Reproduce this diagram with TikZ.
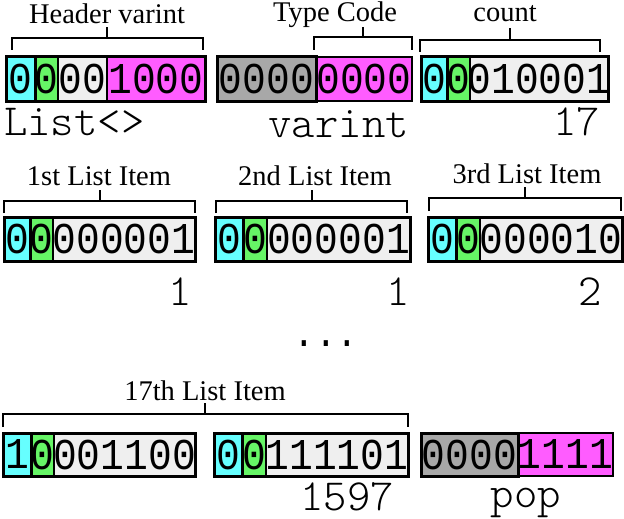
\documentclass[tikz,border=0pt]{standalone}
\usepackage{fontspec}
\setmainfont{Liberation Serif}
\newfontfamily\boxfont{Liberation Mono}[FakeStretch=0.9]
\newfontfamily\valfont{Latin Modern Mono Light}
\definecolor{cyanc}{HTML}{66FFFF}
\definecolor{greenc}{HTML}{66F566}
\definecolor{lightc}{HTML}{EFEFEF}
\definecolor{magc}{HTML}{FF5CFF}
\definecolor{grayc}{HTML}{A8A8A8}
\tikzset{
  cellbox/.style={draw=black, line width=1.3pt, inner sep=0pt, outer sep=0pt, anchor=north west,
    font=\boxfont\fontsize{44}{44}\selectfont},
  thickbox/.style={draw=black, line width=3pt},
  lbl/.style={font=\fontsize{28.5}{30}\selectfont, anchor=base, inner sep=0pt},
  val/.style={font=\valfont\fontsize{44.5}{44.5}\selectfont, inner sep=0pt},
  brk/.style={draw=black, line width=1.3pt},
}
% \mkcell{name}{x1}{x2}{y1}{y2}{color}{text}
\newcommand{\mkcell}[7]{%
  \node[cellbox, fill=#6, minimum width=#3pt-#2pt, minimum height=#5pt-#4pt] (#1) at (#2,#4) {\makebox[0pt][c]{#7}};}
\begin{document}
\begin{tikzpicture}[x=1pt,y=-1pt]
\useasboundingbox (0,0) rectangle (624,519);
% ---------- Row 1 ----------
\mkcell{a1}{6}{35}{57}{101}{cyanc}{0}
\mkcell{a2}{35}{58}{57}{101}{greenc}{0}
\mkcell{a3}{58}{107}{57}{101}{lightc}{00}
\mkcell{a4}{107}{205}{57}{101}{magc}{1000}
\draw[thickbox] (a1.north west) rectangle (a1.south east);
\draw[thickbox] (a1.north west) rectangle (a4.south east);

\mkcell{b1}{217}{316}{57}{101}{grayc}{0000}
\mkcell{b2}{316}{412}{57}{101}{magc}{0000}
\draw[thickbox] (b1.north west) rectangle (b1.south east);

\mkcell{c1}{421}{447}{57}{101}{cyanc}{0}
\mkcell{c2}{447}{470}{57}{101}{greenc}{0}
\mkcell{c3}{470}{608}{57}{101}{lightc}{010001}
\draw[thickbox] (c1.north west) rectangle (c1.south east);
\draw[thickbox] (c1.north west) rectangle (c3.south east);

\node[lbl] (la) at (107,24) {Header varint};
\node[lbl] (lb) at (335,22) {Type Code};
\node[lbl] (lc) at (505,22) {count};
\draw[brk] (12,50) -- (12,38) -- (203,38) -- (203,50);
\draw[brk] (107,38) -- (107,27);
\draw[brk] (314,50) -- (314,37) -- (412,37) -- (412,50);
\draw[brk] (363,37) -- (363,27);
\draw[brk] (420,52) -- (420,40) -- (600,40) -- (600,52);
\draw[brk] (510,40) -- (510,28);

\node[val, anchor=base west] (va) at (4,135) {List<>};
\node[val, anchor=base east] (vb) at (409,137) {varint};
\node[val, anchor=base east] (vc) at (600,135) {17};

% ---------- Row 2 ----------
\mkcell{d1}{4}{30}{217}{261}{cyanc}{0}
\mkcell{d2}{30}{53}{217}{261}{greenc}{0}
\mkcell{d3}{53}{195}{217}{261}{lightc}{000001}
\draw[thickbox] (d1.north west) rectangle (d1.south east);
\draw[thickbox] (d1.north west) rectangle (d3.south east);

\mkcell{e1}{215}{243}{217}{261}{cyanc}{0}
\mkcell{e2}{243}{267}{217}{261}{greenc}{0}
\mkcell{e3}{267}{410}{217}{261}{lightc}{000001}
\draw[thickbox] (e1.north west) rectangle (e1.south east);
\draw[thickbox] (e1.north west) rectangle (e3.south east);

\mkcell{f1}{428}{456}{217}{261}{cyanc}{0}
\mkcell{f2}{456}{480}{217}{261}{greenc}{0}
\mkcell{f3}{480}{622}{217}{261}{lightc}{000010}
\draw[thickbox] (f1.north west) rectangle (f1.south east);
\draw[thickbox] (f1.north west) rectangle (f3.south east);

\node[lbl] (ld) at (99,185) {1st List Item};
\node[lbl] (le) at (315,185) {2nd List Item};
\node[lbl] (lf) at (527,183) {3rd List Item};
\draw[brk] (4,213) -- (4,201) -- (195,201) -- (195,213);
\draw[brk] (100,201) -- (100,190);
\draw[brk] (216,213) -- (216,201) -- (407,201) -- (407,213);
\draw[brk] (312,201) -- (312,190);
\draw[brk] (429,211) -- (429,198) -- (621,198) -- (621,211);
\draw[brk] (525,198) -- (525,187);

\node[val, anchor=base east] (vd) at (192,305) {1};
\node[val, anchor=base east] (ve) at (410,305) {1};
\node[val, anchor=base east] (vf) at (602,305) {2};

\node[font=\boxfont\fontsize{40}{40}\selectfont, inner sep=0pt, anchor=base] (dots) at (326,346) {...};

% ---------- Row 3 ----------
\mkcell{g1}{3}{31}{433}{476}{cyanc}{1}
\mkcell{g2}{31}{54}{433}{476}{greenc}{0}
\mkcell{g3}{54}{195}{433}{476}{lightc}{001100}
\draw[thickbox] (g1.north west) rectangle (g1.south east);
\draw[thickbox] (g1.north west) rectangle (g3.south east);

\mkcell{h1}{214}{242}{433}{476}{cyanc}{0}
\mkcell{h2}{242}{266}{433}{476}{greenc}{0}
\mkcell{h3}{266}{408}{433}{476}{lightc}{111101}
\draw[thickbox] (h1.north west) rectangle (h1.south east);
\draw[thickbox] (h1.north west) rectangle (h3.south east);

\mkcell{i1}{421}{518}{433}{476}{grayc}{0000}
\mkcell{i2}{518}{613}{433}{476}{magc}{1111}
\draw[thickbox] (i1.north west) rectangle (i1.south east);

\node[lbl] (lg) at (205,400) {17th List Item};
\draw[brk] (3,427) -- (3,414) -- (408,414) -- (408,427);
\draw[brk] (205,414) -- (205,403);

\node[val, anchor=base east] (vg) at (394,510) {1597};
\node[val, anchor=base] (vh) at (526,507) {pop};
\end{tikzpicture}
\end{document}
